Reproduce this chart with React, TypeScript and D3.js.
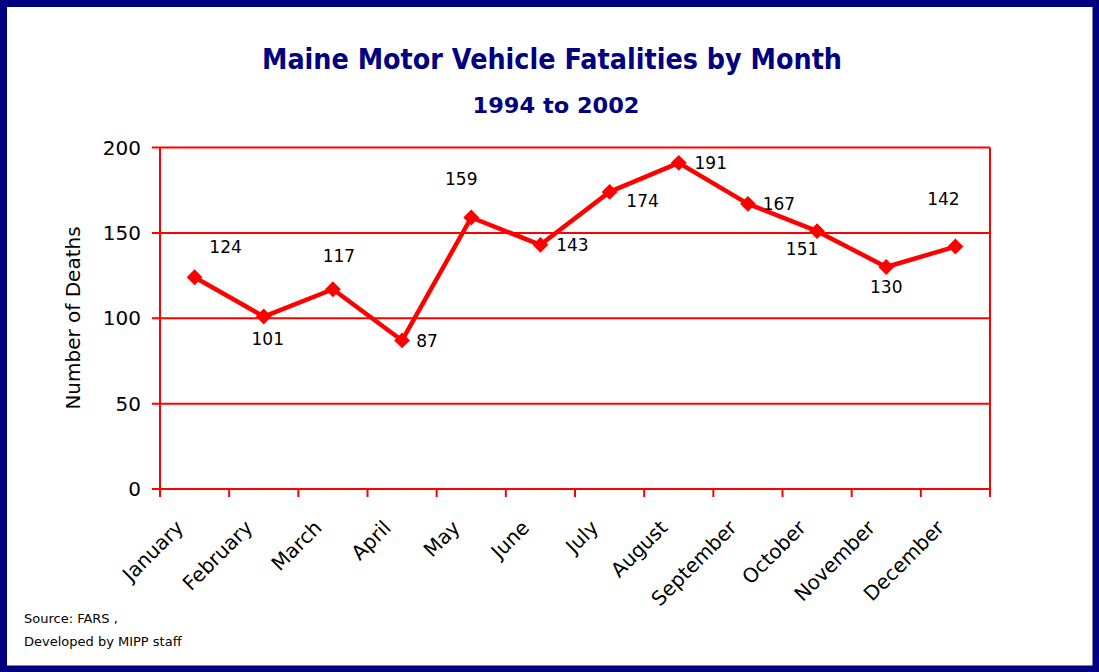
import React from "react";
import * as d3 from "d3";

const months = ["January","February","March","April","May","June","July","August","September","October","November","December"];
const deaths = [124,101,117,87,159,143,174,191,167,151,130,142];
const yTicks = [0,50,100,150,200];
const labelOffsets: [number, number][] = [
  [31,-30],[4,22],[6,-33],[25,0],[-10,-39],[32,0],[33,9],[32,0],[31,0],[-15,18],[0,20],[-12,-48]
];

const W = 1099, H = 672;
const left = 160, right = 990, top = 147.5, bottom = 489;
const FONT = "'DejaVu Sans', Verdana, sans-serif";

export default function App() {
  const x = d3.scaleBand<string>().domain(months).range([left, right]);
  const y = d3.scaleLinear().domain([0, 200]).range([bottom, top]);
  const line = d3.line<number>()
    .x((_, i) => (x(months[i]) as number) + x.bandwidth() / 2)
    .y(d => y(d));
  const red = "#ff0000";
  const navy = "#000080";
  const bandEdges = months.map(m => x(m) as number).concat([right]);
  return (
    <svg width={W} height={H} style={{ position: "absolute", left: 0, top: 0 }} fontFamily={FONT}>
      <rect x={0} y={0} width={W} height={H} fill="#fff" />
      <rect x={3.5} y={3.5} width={W - 6.5} height={H - 6.5} fill="none" stroke={navy} strokeWidth={7} />
      <text x={552} y={69} textAnchor="middle" fill={navy} fontWeight="bold" fontSize={28} textLength={580} lengthAdjust="spacingAndGlyphs">Maine Motor Vehicle Fatalities by Month</text>
      <text x={556} y={113} textAnchor="middle" fill={navy} fontWeight="bold" fontSize={22} textLength={167} lengthAdjust="spacingAndGlyphs">1994 to 2002</text>
      {yTicks.map(t => (
        <g key={t}>
          <line x1={152} x2={right} y1={y(t)} y2={y(t)} stroke={red} strokeWidth={2} />
          <text x={141} y={y(t)} dy="0.36em" textAnchor="end" fontSize={20} fill="#000">{t}</text>
        </g>
      ))}
      <line x1={left} x2={left} y1={top} y2={bottom} stroke={red} strokeWidth={2} />
      <line x1={right} x2={right} y1={top} y2={bottom} stroke={red} strokeWidth={2} />
      {bandEdges.map((bx, i) => (
        <line key={i} x1={bx} x2={bx} y1={bottom} y2={bottom + 8} stroke={red} strokeWidth={2} />
      ))}
      {months.map(m => {
        const cx = (x(m) as number) + x.bandwidth() / 2;
        return (
          <text key={m} transform={`translate(${cx - 10},${bottom + 40}) rotate(-45)`} textAnchor="end" fontSize={20} fill="#000">{m}</text>
        );
      })}
      <text transform={`translate(80,318) rotate(-90)`} textAnchor="middle" fontSize={20} fill="#000">Number of Deaths</text>
      <path d={line(deaths) || ""} fill="none" stroke={red} strokeWidth={4.5} strokeLinejoin="round" />
      {deaths.map((d, i) => {
        const cx = (x(months[i]) as number) + x.bandwidth() / 2;
        const cy = y(d);
        return (
          <g key={i}>
            <path d={d3.symbol(d3.symbolDiamond2, 160)() || ""} transform={`translate(${cx},${cy})`} fill={red} />
            <text x={cx + labelOffsets[i][0]} y={cy + labelOffsets[i][1]} dy="0.36em" textAnchor="middle" fontSize={17} fill="#000">{d}</text>
          </g>
        );
      })}
      <text x={24} y={623} fontSize={13} fill="#000">Source: FARS ,</text>
      <text x={24} y={646} fontSize={13} fill="#000">Developed by MIPP staff</text>
    </svg>
  );
}
